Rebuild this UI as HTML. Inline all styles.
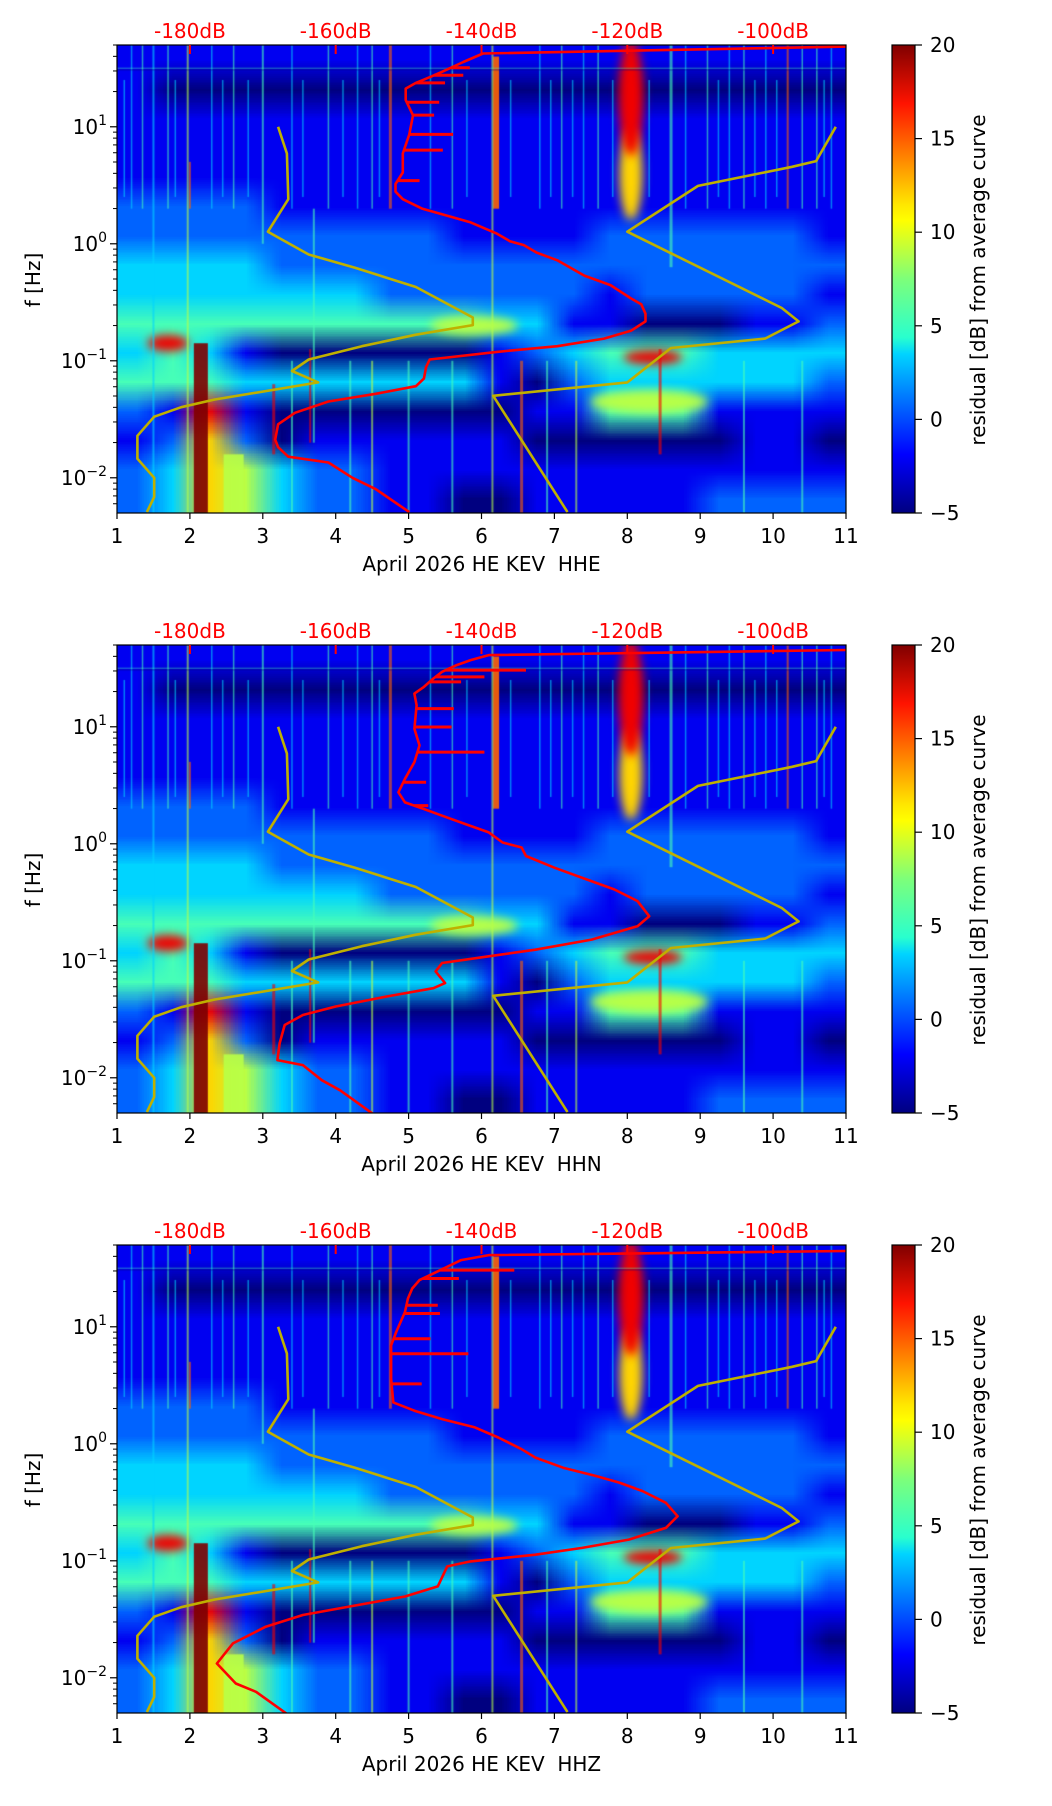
<!DOCTYPE html>
<html><head><meta charset="utf-8"><title>Residual spectrograms</title>
<style>
html,body{margin:0;padding:0;background:#fff;}
#wrap{position:relative;width:1052px;height:1806px;overflow:hidden;font-family:"DejaVu Sans","Liberation Sans",sans-serif;}
canvas{position:absolute;}
svg{position:absolute;left:0;top:0;}
</style></head>
<body>
<div id="wrap">
<canvas id="hm0" width="729" height="468" style="left:117px;top:45px"></canvas>
<canvas id="hm1" width="729" height="468" style="left:117px;top:645px"></canvas>
<canvas id="hm2" width="729" height="468" style="left:117px;top:1245px"></canvas>
<svg id="ov" width="1052" height="1806" xmlns="http://www.w3.org/2000/svg">
<defs>
<linearGradient id="jetg" x1="0" y1="1" x2="0" y2="0">
<stop offset="0" stop-color="#000080"/><stop offset="0.11" stop-color="#0000f1"/>
<stop offset="0.125" stop-color="#0000ff"/><stop offset="0.34" stop-color="#00d4ff"/>
<stop offset="0.375" stop-color="#29ffce"/><stop offset="0.5" stop-color="#7dff7a"/>
<stop offset="0.625" stop-color="#ffff00"/><stop offset="0.66" stop-color="#ffe600"/>
<stop offset="0.875" stop-color="#ff1300"/><stop offset="1" stop-color="#800000"/>
</linearGradient>
<clipPath id="clip0"><rect x="117" y="45" width="729" height="468"/></clipPath>
<clipPath id="clip1"><rect x="117" y="645" width="729" height="468"/></clipPath>
<clipPath id="clip2"><rect x="117" y="1245" width="729" height="468"/></clipPath>
</defs>
</svg>
</div>
<script>
// ---------- data ----------
const channelNames = ["HHE", "HHN", "HHZ"];
const xTicks = [1,2,3,4,5,6,7,8,9,10,11];
const dbTicks = [-180,-160,-140,-120,-100];
const dbTickLabels = ["-180dB","-160dB","-140dB","-120dB","-100dB"];
const yDecades = [-2,-1,0,1];
const yDecadeLabels = ["\u22122","\u22121","0","1"];
const cbTicks = [-5,0,5,10,15,20];
const cbTickLabels = ["\u22125","0","5","10","15","20"];

// residual grid levels (0..9 -> -5..20 dB), rows top(50Hz)->bottom(0.005Hz), cols day 1->11
const gridRows = [
"11111111111111111111",
"10000000000000000000",
"11111111111111111111",
"11111111111111111111",
"11111111111111111111",
"22221111111111111111",
"22222222211112222221",
"33332222222222222222",
"33333332222221222221",
"44444444443311000112",
"34310000001234443333",
"44433333331023333332",
"21810000000114441111",
"12620111111000000110",
"23653221111111111111",
"23653221100111112222"
];
// vertical streaks: day, logf top, logf bottom, level, width(px)
const streakDay =  [1.5,1.97,2.15,2.6,3.7,3.65,3.15,4.75,6.2,6.15,6.55,8.45,10.2,8.6,3.0,1.2,1.35,1.7,2.3,2.6,3.4,3.9,4.3,4.5,5.3,5.6,6.8,7.1,7.4,7.6,8.8,9.1,9.4,9.6,9.9,10.4,10.6,10.8,3.4,4.2,4.5,5.0,5.6,6.9,7.3,9.6,10.4,2.0,1.1,1.8,2.45,2.8,3.55,4.1,4.6,5.8,6.4,6.95,7.25,7.8,8.3,9.25,9.75,10.05,10.7];
const streakTop =  [1.7,1.7,-0.85,-1.8,0.3,-0.9,-1.2,1.7,1.6,1.7,-1.0,-0.9,1.7,1.7,1.7,1.7,1.7,1.7,1.7,1.7,1.7,1.7,1.7,1.7,1.7,1.7,1.7,1.7,1.7,1.7,1.7,1.7,1.7,1.7,1.7,1.7,1.7,1.7,-1.0,-1.0,-1.0,-1.0,-1.0,-1.0,-1.0,-1.0,-1.0,0.7,1.4,1.4,1.4,1.4,1.4,1.4,1.4,1.4,1.4,1.4,1.4,1.4,1.4,1.4,1.4,1.4,1.4];
const streakBot =  [-2.3,-2.3,-2.3,-2.3,-1.7,-1.7,-1.8,0.3,0.3,-2.3,-2.3,-1.8,0.3,-0.2,0.0,0.3,0.3,0.3,0.3,0.3,0.3,0.3,0.3,0.3,0.3,0.3,0.3,0.3,0.3,0.3,0.3,0.3,0.3,0.3,0.3,0.3,0.3,0.3,-2.3,-2.3,-2.3,-2.3,-2.3,-2.3,-2.3,-2.3,-2.3,0.3,0.4,0.4,0.4,0.4,0.4,0.4,0.4,0.4,0.4,0.4,0.4,0.4,0.4,0.4,0.4,0.4,0.4];
const streakLev =  [3,5,9,5,4,8,8,7,7,5,7,8,7,4,4,3,4,4,3,4,3,4,3,4,3,4,3,4,3,4,3,4,3,4,3,4,4,3,4,4,5,4,4,4,5,4,4,7,3,3,3,3,3,3,3,3,3,3,3,3,3,3,3,3,3];
const streakW =    [2,2,14,20,2,2,3,3,6,2,3,3,2,3,2,1.5,1.5,1.5,1.5,1.5,1.5,1.5,1.5,1.5,1.5,1.5,1.5,1.5,1.5,1.5,1.5,1.5,1.5,1.5,1.5,1.5,1.5,1.5,2,2,2,2,2,2,2,2,2,2,1.5,1.5,1.5,1.5,1.5,1.5,1.5,1.5,1.5,1.5,1.5,1.5,1.5,1.5,1.5,1.5,1.5];
// blobs: day, logf, half-width(days), half-height(decades), level
const blobDay =  [8.05,8.05,1.7,8.35,8.3,5.9];
const blobLogf = [0.6,1.25,-0.85,-0.97,-1.35,-0.7];
const blobRx =   [0.16,0.17,0.28,0.4,0.8,0.6];
const blobRy =   [0.4,0.5,0.07,0.06,0.1,0.08];
const blobLev =  [6,8,8,8,5,5];

// PSD curves (dB) vs log10 frequency
const red1Db = [-90,-139.8,-142.5,-145.3,-147.1,-149,-150.4,-150.4,-149.4,-149.9,-150.8,-150.8,-151.8,-151.8,-150.8,-148.1,-145.3,-141.6,-137.9,-136.1,-134.2,-132.4,-129.6,-125.9,-122.3,-119.5,-118.1,-117.5,-117.5,-119.5,-123.2,-129.6,-137.9,-147.1,-147.6,-147.9,-149,-154.5,-161,-165.6,-167.9,-168.3,-167.9,-166.5,-161,-157.7,-154.5,-149.9];
const red1Logf = [1.685,1.626,1.554,1.473,1.424,1.375,1.326,1.228,1.098,0.935,0.772,0.609,0.511,0.446,0.381,0.299,0.25,0.185,0.087,0.022,-0.011,-0.076,-0.141,-0.272,-0.353,-0.467,-0.516,-0.598,-0.663,-0.744,-0.81,-0.875,-0.924,-0.989,-1.054,-1.152,-1.217,-1.282,-1.348,-1.445,-1.543,-1.674,-1.739,-1.82,-1.869,-2.0,-2.098,-2.293];
const red2Db = [-90,-139,-141.5,-143.4,-145.4,-146.6,-147.9,-149.2,-148.9,-149.2,-148.5,-149.2,-150.5,-151.4,-150.5,-147.9,-145.4,-142.2,-139,-137.1,-134.5,-133.9,-130,-125.6,-121.8,-118.6,-117,-118.6,-124.9,-132.6,-139,-145.4,-146.3,-145,-146.6,-153,-160,-164.5,-167,-167.7,-168,-164.5,-161.9,-159.4,-154.3];
const red2Logf = [1.656,1.613,1.570,1.527,1.470,1.413,1.341,1.284,1.184,0.984,0.841,0.698,0.555,0.44,0.354,0.297,0.240,0.168,0.097,0.011,-0.032,-0.104,-0.204,-0.304,-0.390,-0.490,-0.619,-0.704,-0.819,-0.905,-0.962,-1.019,-1.091,-1.191,-1.234,-1.305,-1.391,-1.463,-1.549,-1.706,-1.849,-1.892,-2.021,-2.107,-2.335];
const red3Db = [-90,-139,-142.8,-144.7,-146.6,-148.5,-149.5,-150.1,-150.5,-151.7,-152.4,-152.4,-152.4,-152.1,-149.2,-145.4,-140.9,-137.7,-134.5,-132.6,-128.8,-124.3,-121.1,-117.9,-114.7,-113.1,-114.7,-119.8,-126.2,-132.6,-141.5,-144.7,-146,-150.5,-158.1,-164.5,-169.6,-174.1,-176.3,-173.7,-170.9,-166.1];
const red3Logf = [1.648,1.613,1.570,1.513,1.456,1.399,1.327,1.241,1.127,0.955,0.841,0.698,0.555,0.354,0.283,0.211,0.140,0.054,-0.046,-0.118,-0.204,-0.275,-0.332,-0.404,-0.504,-0.619,-0.719,-0.819,-0.890,-0.948,-1.005,-1.048,-1.219,-1.305,-1.391,-1.463,-1.563,-1.706,-1.878,-2.049,-2.121,-2.335];
// spikes: logf, dB reached
const spike1Logf = [1.505,1.44,1.375,1.21,1.10,0.935,0.80,0.54];
const spike1Db =   [-141.6,-142.5,-145,-145.8,-146.5,-143.9,-145.3,-148.5];
const spike2Logf = [1.484,1.427,1.384,1.155,0.998,0.783,0.526,0.326];
const spike2Db =   [-133.9,-139.6,-142.8,-143.8,-144.1,-139.6,-147.6,-147.3];
const spike3Logf = [1.484,1.413,1.184,1.113,0.898,0.769,0.512];
const spike3Db =   [-135.5,-143.1,-146,-145.7,-147,-141.8,-148.2];
// noise models (yellow)
const lowModelDb = [-167.9,-166.7,-166.5,-169.3,-163.7,-157.3,-149,-141.2,-141.2,-149,-156.4,-163.7,-166,-162.4,-176.6,-181.2,-184.9,-187.2,-187.2,-184.9,-184.9,-185.9];
const lowModelLogf = [1.0,0.772,0.381,0.103,-0.092,-0.206,-0.369,-0.630,-0.695,-0.777,-0.875,-0.989,-1.087,-1.185,-1.331,-1.397,-1.478,-1.641,-1.837,-2.0,-2.163,-2.293];
const highModelDb = [-91.4,-94.1,-97.4,-110.3,-120,-98.8,-96.5,-101.1,-114,-120,-138.4,-128.2];
const highModelLogf = [1.0,0.707,0.658,0.495,0.103,-0.549,-0.663,-0.81,-0.891,-1.185,-1.299,-2.293];

const redDb = [red1Db, red2Db, red3Db];
const redLogf = [red1Logf, red2Logf, red3Logf];
const spikeLogf = [spike1Logf, spike2Logf, spike3Logf];
const spikeDb = [spike1Db, spike2Db, spike3Db];

// ---------- layout / scales ----------
const AX_L = 117, AX_W = 729, AX_H = 468, LOG_TOP = 1.699, LOG_BOT = -2.301;
const panelTop = p => 45 + 600 * p;
const xScale = d => AX_L + (d - 1) / 10 * AX_W;
const dbToX = db => xScale((db + 200) / 10);
const yScale = (lf, top) => top + (LOG_TOP - lf) / (LOG_TOP - LOG_BOT) * AX_H;
const cbY = (v, top) => top + (20 - v) / 25 * AX_H;

function jet(t){
  t = Math.max(0, Math.min(1, t));
  const f = x => Math.max(0, Math.min(1, x));
  return [f(1.5 - Math.abs(4*t - 3)), f(1.5 - Math.abs(4*t - 2)), f(1.5 - Math.abs(4*t - 1))].map(v => Math.round(v*255));
}
const levColor = l => { const c = jet(l / 9); return `rgb(${c[0]},${c[1]},${c[2]})`; };

// ---------- heatmaps ----------
for (let p = 0; p < 3; p++) {
  const cv = document.getElementById('hm' + p);
  const ctx = cv.getContext('2d');
  const small = document.createElement('canvas');
  const nc = gridRows[0].length, nr = gridRows.length;
  small.width = nc; small.height = nr;
  const sctx = small.getContext('2d');
  const img = sctx.createImageData(nc, nr);
  for (let r = 0; r < nr; r++) for (let c = 0; c < nc; c++) {
    const col = jet(parseInt(gridRows[r][c]) / 9);
    const i = (r * nc + c) * 4;
    img.data[i] = col[0]; img.data[i+1] = col[1]; img.data[i+2] = col[2]; img.data[i+3] = 255;
  }
  sctx.putImageData(img, 0, 0);
  ctx.fillStyle = levColor(0); ctx.fillRect(0, 0, AX_W, AX_H);
  ctx.imageSmoothingEnabled = true;
  ctx.drawImage(small, 0, 0, AX_W, AX_H);
  const top = panelTop(p);
  // blobs
  ctx.save(); ctx.filter = 'blur(5px)';
  for (let i = 0; i < blobDay.length; i++) {
    ctx.fillStyle = levColor(blobLev[i]);
    const cx = xScale(blobDay[i]) - AX_L, cy = yScale(blobLogf[i], top) - top;
    const rx = blobRx[i] / 10 * AX_W, ry = blobRy[i] / 4 * AX_H;
    ctx.beginPath(); ctx.ellipse(cx, cy, rx, ry, 0, 0, Math.PI*2); ctx.fill();
  }
  ctx.restore();
  // streaks
  for (let i = 0; i < streakDay.length; i++) {
    ctx.fillStyle = levColor(streakLev[i]);
    const x = xScale(streakDay[i]) - AX_L - streakW[i]/2;
    const y1 = yScale(streakTop[i], top) - top, y2 = yScale(streakBot[i], top) - top;
    ctx.globalAlpha = streakW[i] > 4 ? 0.9 : 0.6;
    ctx.fillRect(x, y1, streakW[i], y2 - y1);
  }
  ctx.globalAlpha = 0.5;
  ctx.fillStyle = levColor(4);
  ctx.fillRect(0, yScale(1.505, top) - top, AX_W, 1);
  ctx.fillStyle = levColor(0);
  ctx.fillRect(0, yScale(1.49, top) - top, AX_W, 1);
  ctx.globalAlpha = 1;
}

// ---------- SVG overlay ----------
const NS = 'http://www.w3.org/2000/svg';
const svg = document.getElementById('ov');
function mk(tag, attrs, parent){
  const e = document.createElementNS(NS, tag);
  for (const k in attrs) e.setAttribute(k, attrs[k]);
  (parent || svg).appendChild(e);
  return e;
}
function interpDb(dbArr, lfArr, lf){
  for (let i = 0; i < lfArr.length - 1; i++) {
    const a = lfArr[i], b = lfArr[i+1];
    if ((lf <= a && lf >= b) || (lf >= a && lf <= b)) {
      const t = (lf - a) / ((b - a) || 1);
      return dbArr[i] + t * (dbArr[i+1] - dbArr[i]);
    }
  }
  return dbArr[0];
}
const FONT = '"DejaVu Sans","Liberation Sans",sans-serif';

for (let p = 0; p < 3; p++) {
  const top = panelTop(p), bot = top + AX_H;
  const g = mk('g', {'clip-path': `url(#clip${p})`});
  
  
  const pts = (dbs, lfs) => dbs.map((d, i) => dbToX(d).toFixed(1) + ',' + yScale(lfs[i], top).toFixed(1)).join(' ');
  const lowM = mk('polyline', {points: pts(lowModelDb, lowModelLogf), fill: 'none', stroke: '#bfb000', 'stroke-width': 2.6, 'stroke-linejoin': 'round'}, g);
  
  
  const highM = mk('polyline', {points: pts(highModelDb, highModelLogf), fill: 'none', stroke: '#bfb000', 'stroke-width': 2.6, 'stroke-linejoin': 'round'}, g);
  
  
  const red = mk('polyline', {points: pts(redDb[p], redLogf[p]), fill: 'none', stroke: '#ff0000', 'stroke-width': 2.6, 'stroke-linejoin': 'round'}, g);
  
  
  for (let i = 0; i < spikeLogf[p].length; i++) {
    const y = yScale(spikeLogf[p][i], top);
    const x0 = dbToX(interpDb(redDb[p], redLogf[p], spikeLogf[p][i]));
    const sp = mk('line', {x1: x0, y1: y, x2: dbToX(spikeDb[p][i]), y2: y, stroke: '#ff0000', 'stroke-width': 3}, g);
    
    
  }
  const fr = mk('rect', {x: AX_L, y: top, width: AX_W, height: AX_H, fill: 'none', stroke: '#000', 'stroke-width': 1.2});
  
  
  xTicks.forEach(t => {
    const x = xScale(t);
    mk('line', {x1: x, y1: bot, x2: x, y2: bot + 6, stroke: '#000', 'stroke-width': 1.2});
    const tx = mk('text', {x: x, y: bot + 30, 'text-anchor': 'middle', 'font-size': 20, 'font-family': FONT, fill: '#000'});
    tx.textContent = String(t);
    
    
  });
  const xt = mk('text', {x: (AX_L + AX_L + AX_W) / 2, y: bot + 58, 'text-anchor': 'middle', 'font-size': 20, 'font-family': FONT, fill: '#000'});
  xt.textContent = 'April 2026 HE KEV \u00a0' + channelNames[p];
  
  
  dbTicks.forEach((d, i) => {
    const x = dbToX(d);
    mk('line', {x1: x, y1: top, x2: x, y2: top + 9, stroke: '#ff0000', 'stroke-width': 2});
    const tt = mk('text', {x: x, y: top - 7, 'text-anchor': 'middle', 'font-size': 20, 'font-family': FONT, fill: '#ff0000'});
    tt.textContent = dbTickLabels[i];
    
    
  });
  for (let d = -3; d <= 1; d++) for (let k = 2; k <= 9; k++) {
    const lf = d + Math.log10(k);
    if (lf < LOG_BOT || lf > LOG_TOP) continue;
    const y = yScale(lf, top);
    mk('line', {x1: AX_L - 4, y1: y, x2: AX_L, y2: y, stroke: '#000', 'stroke-width': 1});
  }
  yDecades.forEach((d, i) => {
    const y = yScale(d, top);
    mk('line', {x1: AX_L - 7, y1: y, x2: AX_L, y2: y, stroke: '#000', 'stroke-width': 1.2});
    const yt = mk('text', {x: AX_L - 10, y: y + 7, 'text-anchor': 'end', 'font-size': 20, 'font-family': FONT, fill: '#000'});
    const b = mk('tspan', {}, yt); b.textContent = '10';
    const s = mk('tspan', {dy: -9, 'font-size': 14}, yt); s.textContent = yDecadeLabels[i];
    
    
  });
  const yl = mk('text', {x: 0, y: 0, transform: `translate(40 ${top + 235}) rotate(-90)`, 'text-anchor': 'middle', 'font-size': 20, 'font-family': FONT, fill: '#000'});
  yl.textContent = 'f [Hz]';
  
  
  const cb = mk('rect', {x: 892, y: top, width: 23, height: AX_H, fill: 'url(#jetg)', stroke: '#000', 'stroke-width': 1.2});
  
  
  cbTicks.forEach((v, i) => {
    const y = cbY(v, top);
    mk('line', {x1: 915, y1: y, x2: 922, y2: y, stroke: '#000', 'stroke-width': 1.2});
    const ct = mk('text', {x: 930, y: y + 7, 'font-size': 20, 'font-family': FONT, fill: '#000'});
    ct.textContent = cbTickLabels[i];
    
    
  });
  const cl = mk('text', {x: 0, y: 0, transform: `translate(985 ${top + 235}) rotate(-90)`, 'text-anchor': 'middle', 'font-size': 20, 'font-family': FONT, fill: '#000'});
  cl.textContent = 'residual [dB] from average curve';
  
  
}
</script>
</body></html>
